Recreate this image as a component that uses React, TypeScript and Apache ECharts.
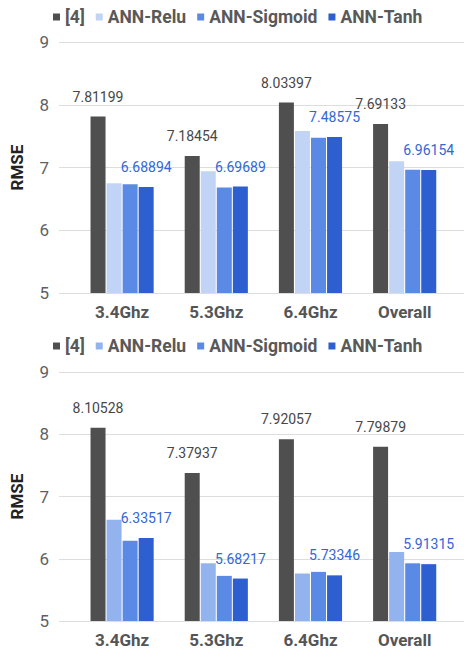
import React, { useEffect, useRef } from "react";
import * as echarts from "echarts";

const categories = ["3.4Ghz", "5.3Ghz", "6.4Ghz", "Overall"];
const seriesNames = ["[4]", "ANN-Relu", "ANN-Sigmoid", "ANN-Tanh"];

const topRef4 = [7.81199, 7.18454, 8.03397, 7.69133];
const topRelu = [6.75, 6.94, 7.58, 7.1];
const topSigmoid = [6.735, 6.68, 7.475, 6.965];
const topTanh = [6.68894, 6.69689, 7.48575, 6.96154];

const botRef4 = [8.10528, 7.37937, 7.92057, 7.79879];
const botRelu = [6.626, 5.927, 5.763, 6.107];
const botSigmoid = [6.29, 5.725, 5.789, 5.927];
const botTanh = [6.33517, 5.68217, 5.73346, 5.91315];

const yMin = 5;
const yMax = 9;
const yStep = 1;

const topColors = ["#4f4f4f", "#c2d4f6", "#5b8ae6", "#2d5fd1"];
const botColors = ["#4f4f4f", "#93b3ef", "#5b8ae6", "#2d5fd1"];
const labelColors = ["#474747", "", "", "#3366d6"];

const FONT = "Roboto";

function buildSeries(gi: number, arrays: number[][], colors: string[]) {
  return arrays.map((arr, si) => ({
    type: "bar",
    name: seriesNames[si],
    xAxisIndex: gi,
    yAxisIndex: gi,
    barWidth: 15,
    barGap: "7%",
    clip: true,
    data: arr.map((v, i) => [i, v]),
    itemStyle: { color: colors[si] },
    label: {
      show: si === 0 || si === 3,
      position: "top",
      distance: 13,
      fontFamily: FONT,
      fontSize: 14,
      color: labelColors[si] || "#444",
      formatter: (p: any) => String(p.value[1]),
    },
  }));
}

function buildLegend(top: number, colors: string[]) {
  return {
    top,
    left: 48,
    icon: "rect",
    itemWidth: 7,
    itemHeight: 7,
    itemGap: 11,
    textStyle: { fontFamily: FONT, fontSize: 17.5, fontWeight: "bold", color: "#595959" },
    data: seriesNames.map((n, i) => ({ name: n, itemStyle: { color: colors[i] } })),
  };
}

function buildX(gi: number) {
  return {
    type: "value",
    gridIndex: gi,
    min: -0.67,
    max: 3.63,
    splitLine: { show: false },
    axisLine: { show: false },
    axisTick: { show: false },
    axisLabel: {
      customValues: categories.map((_, i) => i),
      formatter: (v: number) => categories[Math.round(v)] ?? "",
      fontFamily: FONT,
      fontSize: 17,
      fontWeight: "bold",
      color: "#555",
      margin: 10,
    },
  };
}

function buildY(gi: number) {
  return {
    type: "value",
    gridIndex: gi,
    min: yMin,
    max: yMax,
    interval: yStep,
    axisLine: { show: false },
    axisTick: { show: false },
    axisLabel: { fontFamily: FONT, fontSize: 17, color: "#5f5f5f", margin: 10 },
    splitLine: { lineStyle: { color: "#dddddd", width: 1 } },
    name: "RMSE",
    nameLocation: "middle",
    nameGap: 34,
    nameTextStyle: { fontFamily: FONT, fontSize: 17, fontWeight: "bold", color: "#222" },
  };
}

export default function App() {
  const ref = useRef<HTMLDivElement>(null);
  useEffect(() => {
    if (!ref.current) return;
    const chart = echarts.init(ref.current, undefined, { renderer: "svg" });
    chart.setOption({
      animation: false,
      backgroundColor: "#ffffff",
      textStyle: { fontFamily: FONT },
      grid: [
        { left: 49, right: 0, top: 42, height: 251 },
        { left: 49, right: 0, top: 372, height: 251 },
      ],
      legend: [buildLegend(3, topColors), buildLegend(332, botColors)],
      xAxis: [buildX(0), buildX(1)],
      yAxis: [buildY(0), buildY(1)],
      series: [
        ...buildSeries(0, [topRef4, topRelu, topSigmoid, topTanh], topColors),
        ...buildSeries(1, [botRef4, botRelu, botSigmoid, botTanh], botColors),
      ],
    });
    return () => chart.dispose();
  }, []);
  return (
    <div
      ref={ref}
      style={{ position: "fixed", left: 0, top: 0, width: 464, height: 648 }}
    />
  );
}
